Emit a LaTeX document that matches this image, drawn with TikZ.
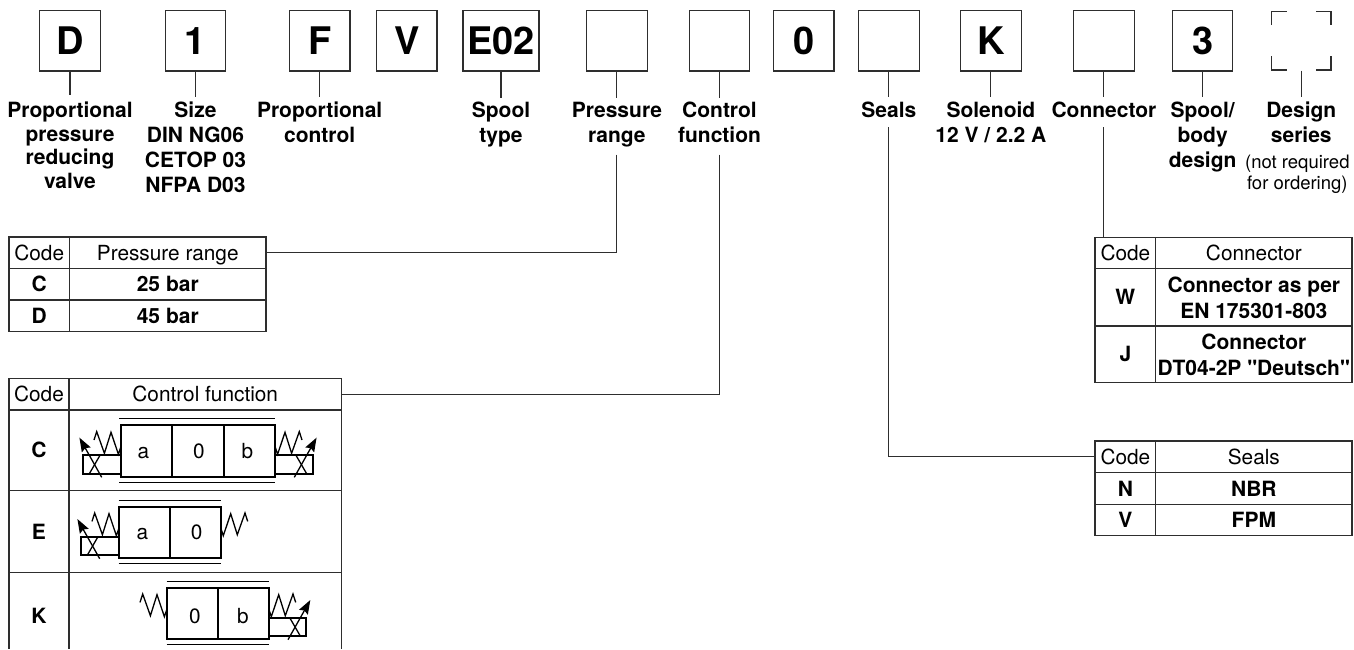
\documentclass[tikz,border=0pt]{standalone}
\usepackage{fontspec}
\setmainfont{TeX Gyre Heros}[Ligatures=TeXOff]
\usetikzlibrary{arrows.meta}
\definecolor{ink}{gray}{0.18}
\newcommand\tp[1][20.5]{\rule{0pt}{#1pt}}
\newcommand\bt[1]{\rule[-#1pt]{0pt}{#1pt}}
\newcommand\tcell[7][tablecell]{%
  \node[#1,minimum width={(#5-#3)*1pt},minimum height={(#6-#4)*1pt}] (#2) at ({(#3+#5)/2},{(#4+#6)/2}) {#7};}
\tikzset{
  every node/.style={inner sep=0pt,outer sep=0pt,text=black},
  rule/.style={draw=ink,line width=1.15pt},
  bigbox/.style={rule,minimum width=60.5pt,minimum height=60.5pt,
    font=\fontsize{38}{38}\selectfont\bfseries,text height=27.2pt,text depth=0pt},
  lab/.style={anchor=north,align=center,font=\fontsize{21}{25}\selectfont\bfseries},
  labtight/.style={lab,font=\fontsize{21}{23.7}\selectfont\bfseries},
  note/.style={anchor=north,align=center,font=\fontsize{18.5}{21}\selectfont},
  tablecell/.style={rule,align=center,font=\fontsize{21}{26}\selectfont\bfseries,text height=15pt,text depth=0pt},
  tablehead/.style={tablecell,font=\fontsize{20.8}{25}\selectfont},
  tabletwo/.style={rule,align=center,font=\fontsize{21}{26}\selectfont\bfseries},
  link/.style={draw=ink,line width=1.15pt},
  valveline/.style={draw=black,line width=2.2pt},
  thinline/.style={draw=black,line width=1.3pt},
  valvetext/.style={font=\fontsize{20.8}{25}\selectfont,text height=15pt,text depth=0pt},
  pics/coil/.style={code={
    \draw[valveline,line width=2pt] (-37.4,30) rectangle (0,48.4);
    \draw[thinline] (-31.3,48.3) -- (-20.7,30);
    \draw[thinline,-{Stealth[length=14pt,width=10pt,inset=2pt]}] (-19,52) -- (-41.3,12.3);
    \draw[thinline] (-26.7,14.7) -- (-24,6.3) -- (-16.3,28) -- (-9.7,7) -- (-2.3,29) -- (0,22);
  }},
  pics/loosespring/.style={code={
    \draw[thinline] (-26.7,14.7) -- (-24,6.3) -- (-16.3,28) -- (-9.7,7) -- (-2.3,29) -- (0,22);
  }},
}
\begin{document}
\begin{tikzpicture}[x=1pt,y=-1pt]
\useasboundingbox (0,0) rectangle (1354,649);
% code boxes
\node[bigbox] (bD) at (70,40.7) {D};
\node[bigbox] (bOne) at (195.5,40.7) {1};
\node[bigbox] (bF) at (319.7,40.7) {F};
\node[bigbox] (bV) at (406.7,40.7) {V};
\node[bigbox,minimum width=76pt] (bE) at (501,40.7) {E02};
\node[bigbox] (bPress) at (616.9,40.7) {};
\node[bigbox] (bCtrl) at (719.5,40.7) {};
\node[bigbox] (bZero) at (803.7,40.7) {0};
\node[bigbox] (bSeals) at (888.9,40.7) {};
\node[bigbox] (bK) at (990.9,40.7) {K};
\node[bigbox] (bConn) at (1103.9,40.7) {};
\node[bigbox] (b3) at (1202.6,40.7) {3};
\node[minimum width=59.4pt,minimum height=59.4pt] (bDesign) at (1301.3,41) {};
\draw[link] (1271.6,25) -- (1271.6,11.3) -- (1286.7,11.3);
\draw[link] (1316,11.3) -- (1331,11.3) -- (1331,25);
\draw[link] (1271.6,56) -- (1271.6,70) -- (1286.7,70);
\draw[link] (1316,70) -- (1331,70) -- (1331,56);
% labels
\node[labtight] (lD) at (70,95) {\tp[22.3]Proportional\\pressure\\reducing\\valve};
\node[lab] (lOne) at (195.5,97) {\tp Size\\DIN NG06\\CETOP 03\\NFPA D03};
\node[lab] (lF) at (319.7,97) {\tp Proportional\\control};
\node[lab] (lE) at (501,98) {\tp[19.5]Spool\\type};
\node[lab] (lPress) at (616.9,98) {\tp[19.5]Pressure\\range\bt{12}};
\node[lab] (lCtrl) at (719.5,98) {\tp[19.5]Control\\function\bt{12}};
\node[lab] (lSeals) at (888.9,97) {\tp Seals\bt{9.5}};
\node[lab] (lK) at (990.9,97) {\tp Solenoid\\12 V / 2.2 A};
\node[lab] (lConn) at (1103.9,97) {\tp Connector\bt{9.5}};
\node[lab] (l3) at (1202.6,97) {\tp Spool/\\body\\design};
\node[lab] (lDesign) at (1301.3,97) {\tp Design\\series};
\node[note] (lNote) at (1297.3,150) {\tp[18](not required\\for ordering)};
% stubs
\foreach \b/\l in {bD/lD,bOne/lOne,bF/lF,bE/lE,bPress/lPress,bCtrl/lCtrl,bSeals/lSeals,bK/lK,bConn/lConn,b3/l3,bDesign/lDesign}
  \draw[link] (\b.south) -- (\l.north);
% pressure table
\tcell[tablehead]{pCode}{9}{237}{69.5}{268.7}{Code}
\tcell[tablehead]{pHead}{69.5}{237}{266}{268.7}{Pressure range}
\tcell{pC}{9}{268.7}{69.5}{300}{C}
\tcell{pCv}{69.5}{268.7}{266}{300}{25 bar}
\tcell{pD}{9}{300}{69.5}{331.7}{D}
\tcell{pDv}{69.5}{300}{266}{331.7}{45 bar}
% control table
\tcell[tablehead]{fCode}{9}{378.7}{69}{410}{Code}
\tcell[tablehead]{fHead}{69}{378.7}{341.5}{410}{Control function}
\tcell{fC}{9}{410}{69}{490.7}{C}
\tcell{fCv}{69}{410}{341.5}{490.7}{}
\tcell{fE}{9}{490.7}{69}{572.3}{E}
\tcell{fEv}{69}{490.7}{341.5}{572.3}{}
\node[tablecell,draw=none] (fKl) at (39,616) {K};
\draw[link] (9,572.3) -- (9,649);
\draw[link] (69,572.3) -- (69,649);
\draw[link] (341.5,572.3) -- (341.5,649);
% connector table
\tcell[tablehead]{cCode}{1095}{237.3}{1155.7}{268.7}{Code}
\tcell[tablehead]{cHead}{1155.7}{237.3}{1352}{268.7}{Connector}
\tcell{cW}{1095}{268.7}{1155.7}{326}{W}
\tcell[tabletwo]{cWv}{1155.7}{268.7}{1352}{326}{Connector as per\\EN 175301-803}
\tcell{cJ}{1095}{326}{1155.7}{382.7}{J}
\tcell[tabletwo]{cJv}{1155.7}{326}{1352}{382.7}{Connector\\DT04-2P "Deutsch"}
% seals table
\tcell[tablehead]{sCode}{1095}{441}{1155.7}{472.7}{Code}
\tcell[tablehead]{sHead}{1155.7}{441}{1352}{472.7}{Seals}
\tcell{sN}{1095}{472.7}{1155.7}{504.3}{N}
\tcell{sNv}{1155.7}{472.7}{1352}{504.3}{NBR}
\tcell{sV}{1095}{504.3}{1155.7}{535.7}{V}
\tcell{sVv}{1155.7}{504.3}{1352}{535.7}{FPM}
% connectors to tables
\draw[link] (lPress.south) |- (pHead.east);
\draw[link] (lCtrl.south) |- (fHead.east);
\draw[link] (lSeals.south) |- (sCode.west);
\draw[link] (lConn.south) -- (lConn.south |- cCode.north);
% valve C
\draw[valveline] (120.7,425.3) rectangle (275.3,476.7);
\draw[valveline] (172.3,425.3) -- (172.3,476.7) (223.7,425.3) -- (223.7,476.7);
\draw[thinline] (119.3,418.7) -- (275.3,418.7) (119.3,482.7) -- (275.3,482.7);
\node[valvetext] (vCa) at (143.3,451) {a};
\node[valvetext] (vC0) at (199,451) {0};
\node[valvetext] (vCb) at (247.3,451) {b};
\pic at (120.7,425.3) {coil};
\pic[xscale=-1] at (275.3,425.3) {coil};
% valve E
\draw[valveline] (118.7,506.7) rectangle (221,558.3);
\draw[valveline] (170,506.7) -- (170,558.3);
\draw[thinline] (118.7,500.3) -- (221,500.3) (118.7,563.7) -- (221,563.7);
\node[valvetext] (vEa) at (142.3,531.7) {a};
\node[valvetext] (vE0) at (196.7,531.7) {0};
\pic at (118.7,506.7) {coil};
\pic[xscale=-1] at (221,506.7) {loosespring};
% valve K
\draw[valveline] (166.7,587.7) rectangle (269,638.7);
\draw[valveline] (218,587.7) -- (218,638.7);
\draw[thinline] (166.7,581.3) -- (269,581.3) (166.7,644.7) -- (269,644.7);
\node[valvetext] (vK0) at (195,616) {0};
\node[valvetext] (vKb) at (243,616) {b};
\pic at (166.7,587.7) {loosespring};
\pic[xscale=-1] at (269,587.7) {coil};
\end{tikzpicture}
\end{document}
